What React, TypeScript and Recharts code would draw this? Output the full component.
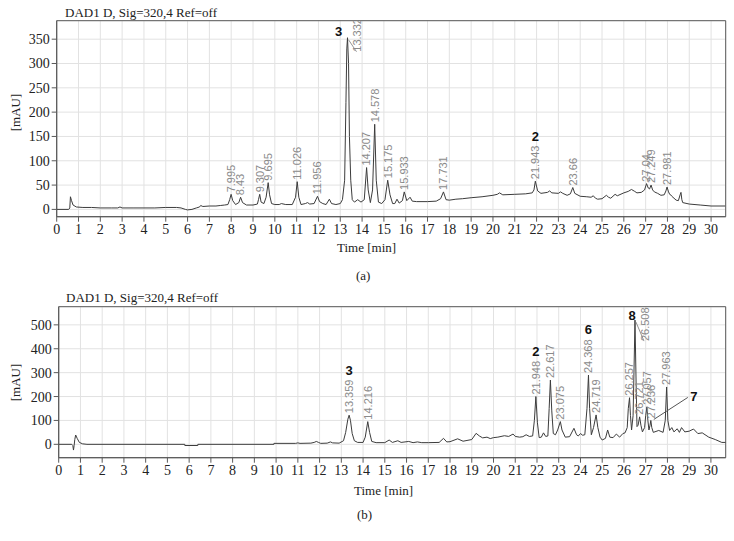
import React from 'react';
import { ComposedChart, Line, Scatter, XAxis, YAxis, CartesianGrid, ReferenceArea } from 'recharts';

// ---------- data ----------
const TIME_TICKS = [0,1,2,3,4,5,6,7,8,9,10,11,12,13,14,15,16,17,18,19,20,21,22,23,24,25,26,27,28,29,30];
const MAU_TICKS_A = [0, 50, 100, 150, 200, 250, 300, 350];
const MAU_TICKS_B = [0, 100, 200, 300, 400, 500];

// chromatogram (a): [time min, mAU]
const TRACE_A: [number, number][] = [
  [0,0],[0.55,0],[0.6,3],[0.63,26],[0.68,18],[0.75,9],[0.9,5],[1.2,4],[1.6,4],[2.0,3],[2.5,3],[2.8,3],[2.9,5],[3.0,3],
  [3.5,3],[4.0,3],[4.5,3],[5.0,4],[5.5,4],[5.7,3],[5.9,0],[6.0,-1],[6.2,0],[6.4,3],[6.55,5],[6.6,8],[6.7,6],[7.0,7],
  [7.3,7],[7.5,8],[7.7,9],[7.85,10],[7.93,20],[7.995,31],[8.07,18],[8.2,10],[8.35,14],[8.43,25],[8.52,14],[8.7,9],
  [9.0,9],[9.2,11],[9.25,20],[9.307,31],[9.37,15],[9.5,12],[9.6,25],[9.695,55],[9.76,30],[9.85,12],[10.0,10],[10.2,10],
  [10.3,12],[10.5,10],[10.8,10],[10.95,25],[11.026,57],[11.1,25],[11.2,10],[11.4,12],[11.5,14],[11.6,11],[11.8,12],
  [11.956,27],[12.05,16],[12.2,12],[12.35,10],[12.5,21],[12.6,12],[12.8,10],[13.0,12],[13.1,20],[13.2,60],[13.26,220],
  [13.3,330],[13.332,353],[13.38,300],[13.42,150],[13.48,60],[13.55,20],[13.65,15],[13.8,20],[13.95,15],[14.1,20],
  [14.207,86],[14.28,40],[14.38,14],[14.48,40],[14.578,175],[14.65,60],[14.75,15],[14.9,12],[15.05,20],[15.175,60],
  [15.28,30],[15.4,12],[15.5,12],[15.6,21],[15.7,13],[15.85,18],[15.933,36],[16.05,18],[16.2,25],[16.3,17],[16.5,16],
  [17.0,16],[17.4,17],[17.6,22],[17.731,36],[17.85,20],[18.0,19],[18.3,21],[18.6,22],[19.0,24],[19.5,26],[20.0,29],
  [20.2,31],[20.3,34],[20.45,30],[21.0,31],[21.5,32],[21.8,34],[21.88,40],[21.943,58],[22.05,38],[22.2,33],[22.5,35],
  [22.6,38],[22.7,34],[23.0,33],[23.1,36],[23.2,33],[23.4,29],[23.55,32],[23.66,45],[23.75,33],[24.0,27],[24.3,26],
  [24.5,25],[24.6,28],[24.7,23],[24.8,21],[25.0,22],[25.2,29],[25.3,25],[25.4,23],[25.6,31],[25.7,28],[26.0,34],
  [26.2,37],[26.35,41],[26.5,37],[26.6,34],[26.8,35],[26.95,40],[27.04,53],[27.12,44],[27.18,42],[27.249,50],[27.32,40],
  [27.4,36],[27.55,33],[27.7,29],[27.85,30],[27.93,38],[27.981,46],[28.05,36],[28.1,31],[28.15,30],[28.2,27],[28.3,23],
  [28.4,19],[28.5,18],[28.58,30],[28.62,35],[28.66,20],[28.7,14],[29.0,11],[29.5,9],[30.0,7],[30.65,7]
];

// chromatogram (b): [time min, mAU]
const TRACE_B: [number, number][] = [
  [0,0],[0.6,0],[0.65,-5],[0.68,-24],[0.71,-5],[0.74,20],[0.78,39],[0.85,25],[0.95,8],[1.1,2],[1.3,0],[5.8,0],[5.8,-5],
  [6.4,-5],[6.4,0],[9.9,0],[9.9,4],[10.9,4],[11.0,6],[11.1,4],[11.6,5],[11.75,8],[11.85,12],[11.95,8],[12.05,4],[12.35,5],
  [12.5,10],[12.6,6],[12.9,5],[13.1,15],[13.2,50],[13.3,105],[13.359,122],[13.42,100],[13.5,45],[13.6,15],[13.75,8],
  [14.0,8],[14.1,30],[14.216,95],[14.3,50],[14.4,12],[14.6,7],[15.0,7],[15.2,18],[15.35,8],[15.6,15],[15.75,8],[16.1,12],
  [16.3,7],[16.5,10],[16.7,7],[17.0,7],[17.5,8],[17.7,25],[17.85,10],[18.0,11],[18.35,23],[18.6,13],[19.0,20],[19.2,46],
  [19.35,35],[19.5,27],[19.7,30],[19.85,24],[20.0,28],[20.2,30],[20.5,36],[20.7,33],[20.9,43],[21.0,33],[21.2,30],
  [21.35,32],[21.5,40],[21.65,33],[21.8,35],[21.88,100],[21.948,200],[22.02,90],[22.1,28],[22.2,30],[22.3,48],[22.4,33],
  [22.5,35],[22.56,150],[22.617,269],[22.68,140],[22.75,45],[22.85,40],[22.95,60],[23.075,95],[23.15,60],[23.3,30],
  [23.5,32],[23.7,67],[23.82,40],[23.9,35],[24.0,45],[24.1,38],[24.2,40],[24.3,150],[24.368,290],[24.42,150],[24.5,40],
  [24.6,70],[24.719,123],[24.8,70],[24.9,30],[25.0,18],[25.15,25],[25.25,60],[25.35,30],[25.5,28],[25.65,43],[25.8,30],
  [25.95,45],[26.05,48],[26.15,70],[26.2,150],[26.257,195],[26.3,120],[26.35,60],[26.42,120],[26.46,300],[26.508,520],
  [26.56,250],[26.6,74],[26.65,80],[26.721,115],[26.78,80],[26.85,52],[26.95,70],[27.0,120],[27.057,157],[27.1,100],
  [27.15,60],[27.2,80],[27.236,100],[27.28,70],[27.35,50],[27.6,58],[27.8,50],[27.9,100],[27.963,240],[28.02,100],
  [28.1,58],[28.2,70],[28.3,52],[28.45,65],[28.55,50],[28.65,70],[28.8,52],[29.0,55],[29.2,64],[29.4,45],[29.6,48],
  [29.9,30],[30.2,20],[30.5,8],[30.68,8]
];

// labelled peaks: [time, apex mAU, label]
const PEAKS_A: [number, number, string][] = [
  [7.995,31,'7.995'],[8.43,25,'8.43'],[9.307,31,'9.307'],[9.695,55,'9.695'],[11.026,57,'11.026'],[11.956,27,'11.956'],
  [13.332,353,'13.332'],[14.207,86,'14.207'],[14.578,175,'14.578'],[15.175,60,'15.175'],[15.933,36,'15.933'],
  [17.731,36,'17.731'],[21.943,58,'21.943'],[23.66,45,'23.66'],[27.04,53,'27.04'],[27.249,50,'27.249'],[27.981,46,'27.981']
];
const PEAKS_B: [number, number, string][] = [
  [13.359,122,'13.359'],[14.216,95,'14.216'],[21.948,200,'21.948'],[22.617,269,'22.617'],[23.075,95,'23.075'],
  [24.368,290,'24.368'],[24.719,123,'24.719'],[26.257,195,'26.257'],[26.508,520,'26.508'],[26.721,115,'26.721'],
  [27.057,157,'27.057'],[27.236,100,'27.236'],[27.963,240,'27.963']
];

// compound numbers attached to peaks
const COMPOUNDS_A: Record<string, string> = { '13.332': '3', '21.943': '2' };
const COMPOUNDS_B: Record<string, string> = { '13.359': '3', '21.948': '2', '24.368': '6', '26.508': '8', '27.236': '7' };

// ---------- styling ----------
const LABEL_OFFSET: Record<string, { dx: number; dy: number }> = {
  '13.332': { dx: 10, dy: 14 },
  '26.508': { dx: 10, dy: 21 },
};
const COMPOUND_MODE: Record<string, { mode: 'top' | 'side' | 'leader'; dx?: number; dy?: number }> = {
  '13.332': { mode: 'side', dx: -9, dy: -2 },
  '26.508': { mode: 'side', dx: -3, dy: 0 },
  '27.236': { mode: 'leader' },
};

const LINE_COLOR = '#3c3c3c';
const LABEL_COLOR = '#8a8a8a';
const BOX_COLOR = '#5a5a5a';
const SERIF = '"Liberation Serif", "Times New Roman", serif';
const SANS = '"Liberation Sans", Arial, sans-serif';

const toPoints = (arr: [number, number][]) => arr.map(([t, v]) => ({ t, v }));
const toPeaks = (arr: [number, number, string][]) => arr.map(([t, v, label]) => ({ t, v, label }));

function makePeakShape(compounds: Record<string, string>) {
  return (props: any) => {
    const { cx, cy, payload } = props;
    if (cx == null || cy == null) return <g />;
    const label: string = payload.label;
    const off = LABEL_OFFSET[label] || { dx: 0, dy: -2 };
    const lx = cx + off.dx;
    const ly = cy + off.dy;
    const len = label.length * 6.1 - 3;
    const comp = compounds[label];
    const mode = COMPOUND_MODE[label];
    let compEl: React.ReactNode = null;
    if (comp) {
      if (mode && mode.mode === 'side') {
        compEl = (
          <text x={cx + (mode.dx || 0)} y={cy + (mode.dy || 0)} textAnchor="middle" fontFamily={SANS} fontWeight="bold" fontSize={13} fill="#111">{comp}</text>
        );
      } else if (mode && mode.mode === 'leader') {
        compEl = (
          <g>
            <line x1={cx + 3} y1={cy - 1} x2={cx + 37} y2={cy - 23} stroke="#555" strokeWidth={1} />
            <text x={cx + 43} y={cy - 19} textAnchor="middle" fontFamily={SANS} fontWeight="bold" fontSize={13} fill="#111">{comp}</text>
          </g>
        );
      } else {
        compEl = (
          <text x={lx} y={ly - len - 5} textAnchor="middle" fontFamily={SANS} fontWeight="bold" fontSize={13} fill="#111">{comp}</text>
        );
      }
    }
    return (
      <g>
        {LABEL_OFFSET[label] ? (
          <line x1={cx + 1} y1={cy + 2} x2={lx - 1} y2={ly} stroke="#777" strokeWidth={0.8} />
        ) : null}
        <text
          x={lx}
          y={ly}
          transform={`rotate(-90, ${lx}, ${ly})`}
          textAnchor="start"
          dy="0.35em"
          fontFamily={SANS}
          fontSize={11}
          fill={LABEL_COLOR}
        >
          {label}
        </text>
        {compEl}
      </g>
    );
  };
}

type PanelProps = {
  trace: [number, number][];
  peaks: [number, number, string][];
  compounds: Record<string, string>;
  height: number;
  yDomain: [number, number];
  yTicks: number[];
  xMax: number;
  margin: { top: number; right: number; bottom: number; left: number };
};

function Panel({ trace, peaks, compounds, height, yDomain, yTicks, xMax, margin }: PanelProps) {
  const tickStyle = { fill: '#222', fontSize: 14, fontFamily: SERIF };
  return (
    <ComposedChart width={734} height={height} margin={margin}>
      <CartesianGrid stroke="#e2e2e2" strokeWidth={1} />
      <XAxis
        type="number"
        dataKey="t"
        domain={[0, xMax]}
        ticks={TIME_TICKS}
        allowDataOverflow
        interval={0}
        height={40}
        tickSize={5}
        tickMargin={2}
        stroke={BOX_COLOR}
        tick={tickStyle}
      />
      <YAxis
        type="number"
        dataKey="v"
        domain={yDomain}
        ticks={yTicks}
        allowDataOverflow
        interval={0}
        width={45}
        tickSize={5}
        tickMargin={2}
        stroke={BOX_COLOR}
        tick={tickStyle}
      />
      <ReferenceArea x1={0} x2={xMax} y1={yDomain[0]} y2={yDomain[1]} fill="none" stroke={BOX_COLOR} strokeWidth={1} ifOverflow="visible" />
      <Line
        data={toPoints(trace)}
        dataKey="v"
        type="linear"
        stroke={LINE_COLOR}
        strokeWidth={1}
        dot={false}
        activeDot={false}
        isAnimationActive={false}
      />
      <Scatter
        data={toPeaks(peaks)}
        dataKey="v"
        isAnimationActive={false}
        shape={makePeakShape(compounds)}
      />
    </ComposedChart>
  );
}

const abs = (left: number, top: number, extra: React.CSSProperties = {}): React.CSSProperties => ({
  position: 'absolute', left, top, whiteSpace: 'nowrap', fontFamily: SERIF, fontSize: 13, lineHeight: '15px', color: '#222', ...extra,
});

export default function App() {
  return (
    <div style={{ position: 'absolute', left: 0, top: 0, width: 734, height: 541, background: '#fff', overflow: 'hidden' }}>
      <div style={{ position: 'absolute', left: 0, top: 0 }}>
        <Panel
          trace={TRACE_A}
          peaks={PEAKS_A}
          compounds={COMPOUNDS_A}
          height={270}
          yDomain={[-15, 388]}
          yTicks={MAU_TICKS_A}
          xMax={30.67}
          margin={{ top: 20.7, right: 8.3, bottom: 13.3, left: 11.7 }}
        />
      </div>
      <div style={{ position: 'absolute', left: 0, top: 270 }}>
        <Panel
          trace={TRACE_B}
          peaks={PEAKS_B}
          compounds={COMPOUNDS_B}
          height={271}
          yDomain={[-56, 576]}
          yTicks={MAU_TICKS_B}
          xMax={30.68}
          margin={{ top: 36.7, right: 8.3, bottom: 43.3, left: 13.7 }}
        />
      </div>
      <div style={abs(65, 5)}>DAD1 D, Sig=320,4 Ref=off</div>
      <div style={abs(66, 290)}>DAD1 D, Sig=320,4 Ref=off</div>
      <div style={abs(-12, 105, { transform: 'rotate(-90deg)', width: 54, textAlign: 'center' })}>[mAU]</div>
      <div style={abs(-12, 375, { transform: 'rotate(-90deg)', width: 54, textAlign: 'center' })}>[mAU]</div>
      <div style={abs(337, 240)}>Time [min]</div>
      <div style={abs(354, 483)}>Time [min]</div>
      <div style={abs(356, 268)}>(a)</div>
      <div style={abs(357, 507)}>(b)</div>
    </div>
  );
}
